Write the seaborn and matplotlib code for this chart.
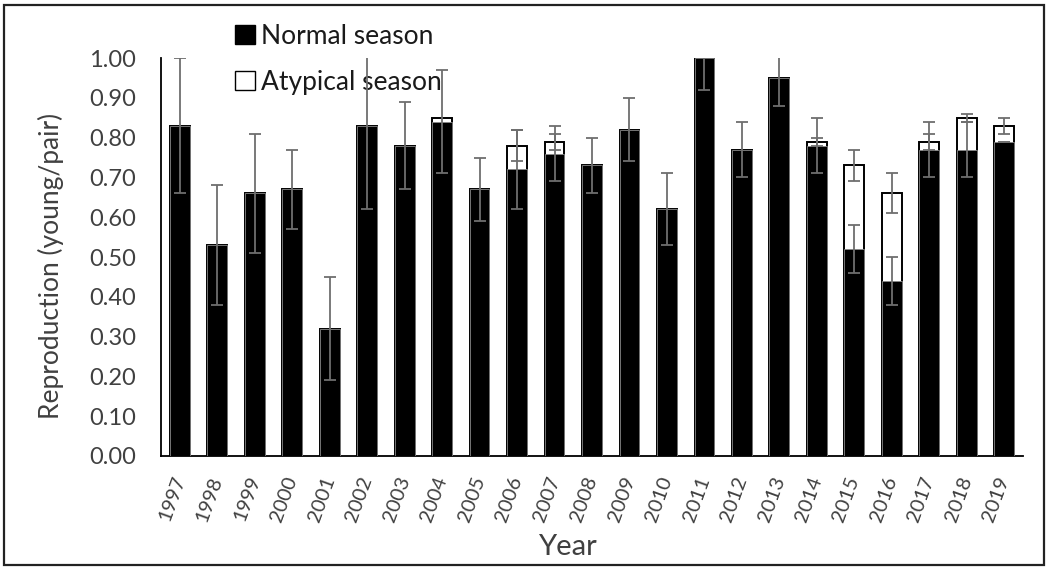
import matplotlib
matplotlib.use("Agg")
import matplotlib.pyplot as plt
import seaborn as sns
import numpy as np
import pandas as pd
from matplotlib.patches import Rectangle

years = ["1997", "1998", "1999", "2000", "2001", "2002", "2003", "2004", "2005", "2006",
         "2007", "2008", "2009", "2010", "2011", "2012", "2013", "2014", "2015", "2016",
         "2017", "2018", "2019"]
normal = [0.83, 0.53, 0.66, 0.67, 0.32, 0.83, 0.78, 0.84, 0.67, 0.72,
          0.76, 0.73, 0.82, 0.62, 1.00, 0.77, 0.95, 0.78, 0.52, 0.44,
          0.77, 0.77, 0.79]
normal_err = [0.17, 0.15, 0.15, 0.10, 0.13, 0.21, 0.11, 0.13, 0.08, 0.10,
              0.07, 0.07, 0.08, 0.09, 0.08, 0.07, 0.07, 0.07, 0.06, 0.06,
              0.07, 0.07, 0.0]
atypical = [0, 0, 0, 0, 0, 0, 0, 0.01, 0, 0.06,
            0.03, 0, 0, 0, 0, 0, 0, 0.01, 0.21, 0.22,
            0.02, 0.08, 0.04]
atypical_err = [np.nan, np.nan, np.nan, np.nan, np.nan, np.nan, np.nan, np.nan, np.nan, 0.04,
                0.02, np.nan, np.nan, np.nan, np.nan, np.nan, np.nan, 0.01, 0.04, 0.05,
                0.02, 0.01, 0.02]

df = pd.DataFrame({"year": years, "normal": normal, "atypical": atypical})
df["total"] = df["normal"] + df["atypical"]

sns.set_style("white")
plt.rcParams["font.family"] = ["Lato", "DejaVu Sans"]

fig = plt.figure(figsize=(10.47, 5.68), dpi=100)
ax = fig.add_axes([161 / 1047, 112 / 568, 862 / 1047, 398 / 568])

bw = 0.53
# total (atypical on top) white bars first
sns.barplot(data=df, x="year", y="total", color="white", edgecolor="black",
            linewidth=1.4, width=bw, errorbar=None, ax=ax, zorder=2)
# normal black bars on top
sns.barplot(data=df, x="year", y="normal", color="black", edgecolor="#888888",
            linewidth=0.6, width=bw, errorbar=None, ax=ax, zorder=3)
for p in ax.patches[len(years):]:
    p.set_facecolor("black")
for p in ax.patches[:len(years)]:
    p.set_facecolor("white")

xpos = np.arange(len(years))
ecol = "#6e6e6e"
ax.errorbar(xpos, df["normal"], yerr=normal_err, fmt="none", ecolor=ecol,
            elinewidth=1.3, capsize=4.3, capthick=1.3, zorder=5)
ax.errorbar(xpos, df["total"], yerr=atypical_err, fmt="none", ecolor=ecol,
            elinewidth=1.3, capsize=4.3, capthick=1.3, zorder=5)

ax.set_ylim(0, 1.0)
ax.set_xlim(-0.5, len(years) - 0.5)
ticks = np.arange(0, 1.01, 0.1)
ax.set_yticks(ticks)
ax.set_yticklabels([f"{v:.2f}" for v in ticks])
ax.tick_params(axis="y", length=0, pad=18, labelsize=17, labelcolor="#404040")
ax.tick_params(axis="x", length=0, pad=15, labelsize=14.5, labelcolor="#404040")
for lab in ax.get_xticklabels():
    lab.set_rotation(70)
    lab.set_ha("right")
    lab.set_va("center")
    lab.set_rotation_mode("anchor")

for s in ["top", "right"]:
    ax.spines[s].set_visible(False)
for s in ["left", "bottom"]:
    ax.spines[s].set_color("black")
    ax.spines[s].set_linewidth(1.3)

ax.set_ylabel("Reproduction (young/pair)", fontsize=19, color="#404040")
ax.yaxis.set_label_coords(-0.113, 0.477)
ax.set_xlabel("Year", fontsize=21, color="#404040")
ax.xaxis.set_label_coords(0.471, -0.195)

handles = [
    Rectangle((0, 0), 1, 1, facecolor="black", edgecolor="black", lw=1.0),
    Rectangle((0, 0), 1, 1, facecolor="white", edgecolor="black", lw=1.0),
]
leg = ax.legend(handles, ["Normal season", "Atypical season"], loc="upper left",
                bbox_to_anchor=(235 / 1047, 1 - 24 / 568), bbox_transform=fig.transFigure,
                frameon=False, fontsize=19, handlelength=0.75, handleheight=0.75,
                handletextpad=0.25, labelspacing=0.78, borderaxespad=0, borderpad=0)
leg.set_zorder(1)
for t in leg.get_texts():
    t.set_color("#1a1a1a")

fig.patches.append(Rectangle((4 / 1047, 3 / 568), 1040 / 1047, 560 / 568,
                             transform=fig.transFigure, fill=False,
                             edgecolor="#222222", lw=1.6))

fig.savefig("out.png", dpi=100)
